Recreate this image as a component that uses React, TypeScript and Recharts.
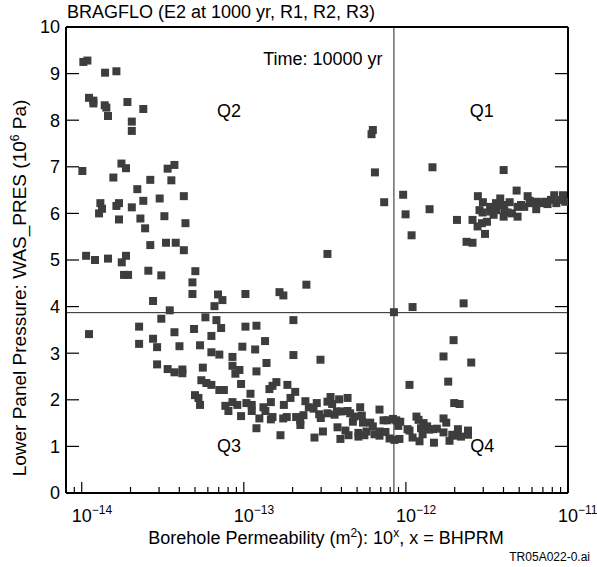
import { ScatterChart, Scatter, XAxis, YAxis, ZAxis, ReferenceLine, ReferenceDot } from 'recharts';

// [BHPRM (log10 of borehole permeability, m^2), WAS_PRES (MPa)]
const upperLeft: [number, number][] = [
  [-13.99, 9.25], [-13.965, 9.28], [-13.856, 9.02], [-13.786, 9.05], [-13.955, 8.48], [-13.928, 8.42],
  [-13.928, 8.36], [-13.858, 8.32], [-13.848, 8.27], [-13.718, 8.39], [-13.62, 8.24], [-13.838, 8.09],
  [-13.691, 7.97], [-13.691, 7.77], [-13.755, 7.07], [-13.727, 6.97], [-13.996, 6.91], [-13.47, 6.96],
  [-13.428, 7.04], [-13.805, 6.77], [-13.577, 6.72], [-13.447, 6.71], [-13.657, 6.52],
  [-13.885, 6.22], [-13.875, 6.1], [-13.893, 6.0], [-13.786, 6.16], [-13.77, 6.22], [-13.691, 6.13],
  [-13.62, 6.27], [-13.519, 6.32], [-13.37, 6.37], [-13.77, 5.87], [-13.638, 5.89], [-13.49, 5.94],
  [-13.36, 5.79], [-13.609, 5.68], [-13.577, 5.32], [-13.48, 5.37], [-13.42, 5.37], [-13.37, 5.21],
  [-13.973, 5.09], [-13.918, 5.0], [-13.838, 5.03], [-13.753, 4.95], [-13.727, 5.09], [-13.739, 4.68],
  [-13.714, 4.68], [-13.589, 4.77], [-13.509, 4.67], [-13.56, 4.12], [-13.457, 3.92],
];

const midLeft: [number, number][] = [
  [-13.509, 3.74], [-13.646, 3.57], [-13.955, 3.41], [-13.428, 3.45], [-13.56, 3.31],
  [-13.646, 3.2], [-13.535, 3.13], [-13.397, 3.15], [-13.535, 2.76], [-13.47, 2.66], [-13.428, 2.59],
  [-13.379, 2.65], [-13.379, 2.57],
  [-13.299, 4.76], [-13.317, 4.52], [-13.317, 4.27], [-13.159, 4.26], [-13.132, 4.14], [-13.181, 4.01],
  [-12.99, 4.27], [-12.78, 4.31], [-12.756, 4.24], [-12.614, 4.47], [-13.237, 3.77], [-13.169, 3.71],
  [-13.307, 3.52], [-13.14, 3.54], [-12.99, 3.57], [-12.922, 3.59], [-12.694, 3.71], [-13.2, 3.37],
];

const lowerMid: [number, number][] = [
  [-12.869, 3.26], [-13.27, 3.17], [-13.2, 3.02], [-13.151, 2.97], [-13.009, 3.14], [-12.93, 3.08],
  [-13.07, 2.92], [-12.86, 2.79], [-12.694, 2.96], [-13.253, 2.69], [-13.07, 2.73], [-13.027, 2.64],
  [-13.052, 2.56], [-12.922, 2.61], [-13.262, 2.42], [-13.231, 2.36], [-13.2, 2.32], [-13.151, 2.21],
  [-13.123, 2.21], [-13.017, 2.34], [-12.959, 2.13], [-12.842, 2.23], [-12.823, 2.3], [-12.799, 2.38],
  [-12.731, 2.32], [-12.683, 2.17], [-13.301, 2.1], [-13.28, 2.04], [-13.27, 1.89], [-13.114, 1.87],
  [-13.095, 1.76], [-13.07, 1.95], [-13.04, 1.89], [-12.984, 1.93], [-12.951, 1.89], [-12.951, 1.76],
  [-12.879, 1.84], [-12.867, 1.76], [-12.833, 1.95], [-12.753, 1.89], [-12.712, 2.04], [-12.62, 1.97],
  [-12.599, 1.84], [-13.017, 1.65], [-12.904, 1.6], [-12.833, 1.58], [-12.823, 1.63], [-12.757, 1.6],
  [-12.735, 1.63], [-12.677, 1.63], [-12.652, 1.56], [-12.651, 1.46], [-12.632, 1.67], [-12.922, 1.39],
  [-12.774, 1.24],
  [-12.527, 2.86], [-12.57, 1.81], [-12.55, 1.93], [-12.535, 1.69], [-12.525, 1.61], [-12.484, 1.96],
  [-12.465, 2.06], [-12.455, 1.91], [-12.484, 1.71], [-12.44, 1.68], [-12.426, 1.75], [-12.412, 2.01],
  [-12.4, 1.75], [-12.36, 2.04], [-12.36, 1.76], [-12.344, 1.71], [-12.319, 1.64], [-12.327, 1.53],
  [-12.282, 1.84], [-12.272, 1.66], [-12.265, 1.51], [-12.22, 1.51], [-12.204, 1.43], [-12.163, 1.79],
  [-12.138, 1.56], [-12.114, 1.56], [-12.08, 1.59], [-12.564, 1.19], [-12.512, 1.32], [-12.422, 1.41],
  [-12.404, 1.16], [-12.373, 1.34], [-12.354, 1.24], [-12.293, 1.29], [-12.293, 1.21], [-12.256, 1.24],
  [-12.243, 1.32], [-12.194, 1.26], [-12.163, 1.32], [-12.163, 1.23], [-12.126, 1.31], [-12.101, 1.17],
  [-12.071, 1.14],
];

const lowerRight: [number, number][] = [
  [-12.06, 1.56], [-12.035, 1.53], [-12.047, 1.44], [-12.04, 1.16], [-11.978, 2.32],
  [-11.99, 1.37], [-11.978, 1.34], [-11.959, 1.19], [-11.935, 1.64], [-11.922, 1.57], [-11.907, 1.39],
  [-11.891, 1.5], [-11.916, 1.11], [-11.897, 1.26], [-11.869, 1.43], [-11.858, 1.36], [-11.833, 1.37],
  [-11.809, 1.38], [-11.827, 1.08], [-11.768, 1.6], [-11.751, 1.51], [-11.768, 1.3], [-11.731, 1.12],
  [-11.714, 1.25], [-11.679, 1.37], [-11.685, 1.23], [-11.66, 1.21], [-11.617, 1.34], [-11.617, 1.25],
  [-11.702, 1.93], [-11.669, 1.91], [-11.739, 2.39], [-11.768, 2.93], [-11.706, 3.28], [-11.597, 2.8],
  [-11.644, 4.07], [-11.959, 3.99], [-12.074, 3.88],
];

const upperRight: [number, number][] = [
  [-12.204, 7.79], [-12.212, 7.7], [-12.191, 6.88], [-12.017, 6.4], [-12.134, 6.24], [-12.002, 5.98],
  [-11.854, 6.09], [-11.965, 5.53], [-12.484, 5.13],
  [-11.836, 6.99], [-11.397, 6.93], [-11.685, 5.86], [-11.589, 5.86], [-11.556, 6.37], [-11.525, 6.24],
  [-11.546, 6.07], [-11.527, 6.02], [-11.558, 5.72], [-11.531, 5.79], [-11.5, 5.82], [-11.512, 5.56],
  [-11.626, 5.39], [-11.589, 5.37], [-11.48, 6.14], [-11.48, 6.04], [-11.459, 5.97], [-11.444, 6.22],
  [-11.444, 6.07], [-11.418, 6.32], [-11.397, 6.18], [-11.393, 6.06], [-11.397, 5.93], [-11.36, 6.24],
  [-11.373, 6.02], [-11.346, 6.0], [-11.317, 6.49], [-11.311, 6.14], [-11.311, 5.93], [-11.29, 6.18],
  [-11.27, 6.14], [-11.249, 6.37], [-11.237, 6.27], [-11.222, 6.22], [-11.196, 6.25], [-11.196, 6.09],
  [-11.171, 6.22], [-11.146, 6.25], [-11.126, 6.2], [-11.105, 6.29], [-11.085, 6.39], [-11.072, 6.22],
  [-11.052, 6.29], [-11.031, 6.39], [-11.017, 6.25],
];

// quadrant split lines
const BHPRM_SPLIT = -12.074;
const PRES_SPLIT = 3.87;

const X_DOMAIN: [number, number] = [-14.097, -11];
const X_DECADES = [-15, -14, -13, -12];
const X_TICKS = X_DECADES.flatMap((d) => [1, 2, 3, 4, 5, 6, 7, 8, 9].map((k) => d + Math.log10(k)))
  .concat(-11)
  .filter((t) => t >= X_DOMAIN[0] && t <= X_DOMAIN[1]);
const Y_TICKS = [0, 1, 2, 3, 4, 5, 6, 7, 8, 9, 10];

const quadLabels = [
  { name: 'Q1', x: -11.532, y: 8.2 },
  { name: 'Q2', x: -13.091, y: 8.2 },
  { name: 'Q3', x: -13.091, y: 1.01 },
  { name: 'Q4', x: -11.529, y: 1.01 },
  { name: 'Time: 10000 yr', x: -12.512, y: 9.33 },
];

const data = [...upperLeft, ...midLeft, ...lowerMid, ...lowerRight, ...upperRight].map(([x, y]) => ({ x, y }));

const FS = 18;
const INK = '#000';

// plot box: left 66, right 568, top 27, bottom 493
function BottomTick({ x, y, payload }: any) {
  const v = payload.value as number;
  const major = Number.isInteger(v);
  return (
    <g>
      <line x1={x} x2={x} y1={y} y2={y - (major ? 11 : 6)} stroke={INK} strokeWidth={1.2} />
      {major && (
        <text x={x - 0.556 * FS} y={y + 29} fontSize={FS} fill={INK}>
          10<tspan dy={-8} fontSize={12}>{'\u2212' + Math.abs(v)}</tspan>
        </text>
      )}
    </g>
  );
}

function TopTick({ x, y, payload }: any) {
  const major = Number.isInteger(payload.value);
  return <line x1={x} x2={x} y1={y} y2={y + (major ? 11 : 6)} stroke={INK} strokeWidth={1.2} />;
}

function LeftTick({ x, y, payload }: any) {
  return (
    <g>
      <line x1={x} x2={x + 13} y1={y} y2={y} stroke={INK} strokeWidth={1.2} />
      <text x={x - 6} y={y} dy="0.35em" textAnchor="end" fontSize={FS} fill={INK}>
        {payload.value}
      </text>
    </g>
  );
}

function RightTick({ x, y }: any) {
  return <line x1={x} x2={x - 13} y1={y} y2={y} stroke={INK} strokeWidth={1.2} />;
}

export default function App() {
  const axisLine = { stroke: INK, strokeWidth: 2 };
  return (
    <div style={{ position: 'absolute', left: 0, top: 0, width: 597, height: 567, background: '#fff', fontFamily: "'Liberation Sans', Arial, sans-serif", color: INK }}>
      <div style={{ position: 'absolute', left: 67, top: 2, fontSize: FS, lineHeight: '20px', whiteSpace: 'nowrap' }}>
        BRAGFLO (E2 at 1000 yr, R1, R2, R3)
      </div>
      <ScatterChart width={597} height={567} margin={{ top: 0, right: 0, bottom: 0, left: 0 }}>
        <XAxis
          dataKey="x"
          type="number"
          domain={X_DOMAIN}
          ticks={X_TICKS}
          interval={0}
          tick={<BottomTick />}
          tickSize={0}
          tickMargin={0}
          tickLine={false}
          axisLine={axisLine}
          height={74}
          allowDataOverflow
        />
        <XAxis
          xAxisId="top"
          orientation="top"
          type="number"
          domain={X_DOMAIN}
          ticks={X_TICKS}
          interval={0}
          tick={<TopTick />}
          tickSize={0}
          tickMargin={0}
          tickLine={false}
          axisLine={axisLine}
          height={27}
          allowDataOverflow
        />
        <YAxis
          dataKey="y"
          type="number"
          domain={[0, 10]}
          ticks={Y_TICKS}
          interval={0}
          tick={<LeftTick />}
          tickSize={0}
          tickMargin={0}
          tickLine={false}
          axisLine={axisLine}
          width={66}
          allowDataOverflow
        />
        <YAxis
          yAxisId="right"
          orientation="right"
          type="number"
          domain={[0, 10]}
          ticks={Y_TICKS}
          interval={0}
          tick={<RightTick />}
          tickSize={0}
          tickMargin={0}
          tickLine={false}
          axisLine={axisLine}
          width={29}
          allowDataOverflow
        />
        <ZAxis range={[36, 36]} />
        <ReferenceLine x={BHPRM_SPLIT} stroke="#222" strokeWidth={1} />
        <ReferenceLine y={PRES_SPLIT} stroke="#222" strokeWidth={1} />
        <Scatter data={data} fill="#3d3d3d" shape="square" isAnimationActive={false} />
        {quadLabels.map((q) => (
          <ReferenceDot
            key={q.name}
            x={q.x}
            y={q.y}
            r={0}
            fill="none"
            stroke="none"
            label={{ value: q.name, position: 'center', fontSize: FS, fill: INK }}
          />
        ))}
      </ScatterChart>
      <div style={{ position: 'absolute', left: 20, top: 288, transform: 'translate(-50%, -50%) rotate(-90deg)', fontSize: 19, whiteSpace: 'nowrap', lineHeight: '20px' }}>
        Lower Panel Pressure: WAS_PRES (10<span style={{ fontSize: 12, verticalAlign: 'super', lineHeight: 0 }}>6</span> Pa)
      </div>
      <div style={{ position: 'absolute', left: 326, top: 528, transform: 'translateX(-50%)', fontSize: FS, whiteSpace: 'nowrap', lineHeight: '20px' }}>
        Borehole Permeability (m<span style={{ fontSize: 12, verticalAlign: 'super', lineHeight: 0 }}>2</span>): 10
        <span style={{ fontSize: 12, verticalAlign: 'super', lineHeight: 0 }}>x</span>, x = BHPRM
      </div>
      <div style={{ position: 'absolute', right: 7, top: 550, fontSize: 12, whiteSpace: 'nowrap', lineHeight: '14px' }}>
        TR05A022-0.ai
      </div>
    </div>
  );
}
